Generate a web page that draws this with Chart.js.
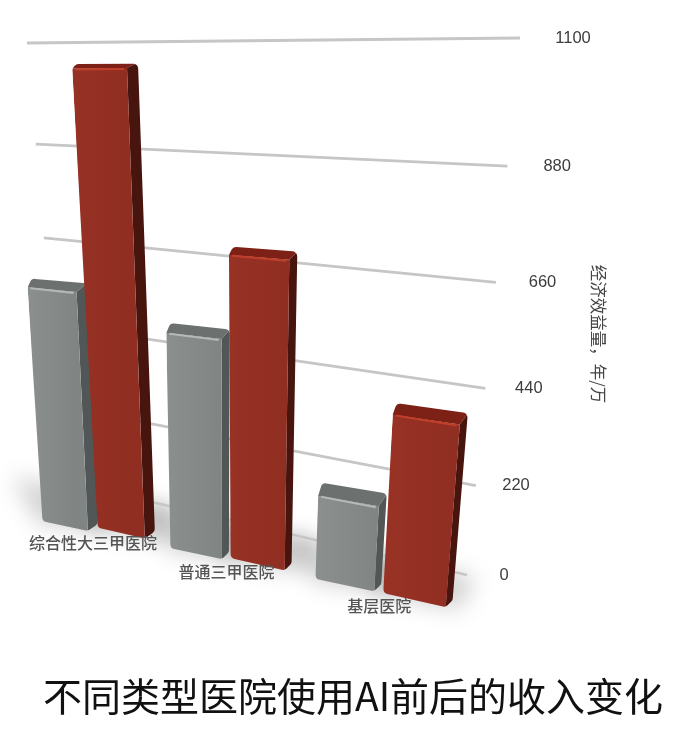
<!DOCTYPE html>
<html>
<head>
<meta charset="utf-8">
<style>
  html, body { margin: 0; padding: 0; background: #fff; }
  canvas { display: block; }
</style>
<script src="https://cdn.jsdelivr.net/npm/chart.js@4/dist/chart.umd.min.js"></script>
</head>
<body>
<canvas id="myChart" width="674" height="736"></canvas>
<script>
// data
const categories = ['综合性大三甲医院', '普通三甲医院', '基层医院'];
const beforeAI = [580, 510, 195];
const afterAI = [1050, 690, 400];
const yTicks = [0, 220, 440, 660, 880, 1100];
const titleText = '不同类型医院使用AI前后的收入变化';
const yAxisText = '经济效益量，年/万';

// perspective planes: top-left, top-right, bottom-right, bottom-left
const gridPlane = quad([27, 43], [520, 38], [467, 575], [65, 482]);
const grayPlane = quad([38, 42], [368, 34], [344.5, 585], [65, 526]);
const redPlane = quad([98, 42], [451, 34], [414, 600], [121, 533]);

function quad(p0, p1, p2, p3) {
    const dx1 = p1[0] - p2[0], dy1 = p1[1] - p2[1];
    const dx2 = p3[0] - p2[0], dy2 = p3[1] - p2[1];
    const sx = p0[0] - p1[0] + p2[0] - p3[0], sy = p0[1] - p1[1] + p2[1] - p3[1];
    const det = dx1 * dy2 - dy1 * dx2;
    const g = (sx * dy2 - sy * dx2) / det, h = (dx1 * sy - dy1 * sx) / det;
    const a = p1[0] - p0[0] + g * p1[0], b = p3[0] - p0[0] + h * p3[0];
    const d = p1[1] - p0[1] + g * p1[1], e = p3[1] - p0[1] + h * p3[1];
    return (u, v) => {
        const w = g * u + h * v + 1;
        return [(a * u + b * v + p0[0]) / w, (d * u + e * v + p0[1]) / w];
    };
}

// flat chart pixel -> bar plane (bar centres at 1/6 and 5/6 of the width)
function barPoint(chart, plane, x, y) {
    const area = chart.chartArea;
    const u = ((x - area.left) / area.width - 1 / 6) * 1.5;
    return plane(u, (y - area.top) / area.height);
}

function poly(ctx, pts) {
    ctx.beginPath();
    pts.forEach((p, i) => i ? ctx.lineTo(p[0], p[1]) : ctx.moveTo(p[0], p[1]));
    ctx.closePath();
}

function roundPoly(ctx, pts, r) {
    const n = pts.length;
    ctx.beginPath();
    ctx.moveTo((pts[0][0] + pts[n - 1][0]) / 2, (pts[0][1] + pts[n - 1][1]) / 2);
    for (let i = 0; i < n; i++) {
        const next = pts[(i + 1) % n];
        ctx.arcTo(pts[i][0], pts[i][1], next[0], next[1], r);
    }
    ctx.closePath();
}

function barCorners(chart, plane, el) {
    const l = el.x - el.width / 2, r = el.x + el.width / 2;
    return {
        tl: barPoint(chart, plane, l, el.y),
        tr: barPoint(chart, plane, r, el.y),
        br: barPoint(chart, plane, r, el.base),
        bl: barPoint(chart, plane, l, el.base)
    };
}

function drawBar(ctx, c, col, index) {
    // the lower the top of a bar, the more of its cap shows; left bars show more side
    const capH = 3 + c.tl[1] * 0.02, sideW = [11, 8, 8][index];
    const backL = [c.tl[0] + 4, c.tl[1] - capH];
    const backR = [c.tr[0] + sideW, c.tr[1] - capH];
    const sideB = [c.br[0] + sideW - 1, c.br[1] - 7];
    ctx.save();
    roundPoly(ctx, [c.tl, backL, backR, sideB, c.br, c.bl], 5);
    ctx.clip();
    ctx.filter = 'blur(0.7px)';
    // top
    ctx.fillStyle = col.cap;
    poly(ctx, [[c.tl[0] - 2, c.tl[1]], [backL[0] - 2, backL[1] - 2], [backR[0] + 2, backR[1] - 2], c.tr]);
    ctx.fill();
    // right side
    ctx.fillStyle = col.side;
    poly(ctx, [c.tr, [backR[0] + 2, backR[1] - 2], [sideB[0] + 2, sideB[1] + 2], c.br]);
    ctx.fill();
    // front
    const grad = ctx.createLinearGradient(c.tl[0], 0, c.tr[0], 0);
    grad.addColorStop(0, col.frontL);
    grad.addColorStop(1, col.front);
    ctx.fillStyle = grad;
    poly(ctx, [c.tl, c.tr, [c.br[0], c.br[1] + 3], [c.bl[0] - 2, c.bl[1] + 3], [c.bl[0] - 2, c.bl[1]]]);
    ctx.fill();
    // lit front edge
    ctx.strokeStyle = col.edge;
    ctx.lineWidth = 2;
    ctx.beginPath();
    ctx.moveTo(c.tl[0] + 3, c.tl[1] + 1);
    ctx.lineTo(c.tr[0] - 3, c.tr[1] + 1);
    ctx.stroke();
    ctx.restore();
}

const perspective = {
    id: 'perspective',
    beforeDatasetsDraw(chart) {
        const ctx = chart.ctx, y = chart.scales.y, area = chart.chartArea;
        const sets = [
            { meta: chart.getDatasetMeta(0), plane: grayPlane,
              col: { front: '#808584', frontL: '#8b908f', cap: '#6c7170', side: '#515756', edge: '#b4b9b8' } },
            { meta: chart.getDatasetMeta(1), plane: redPlane,
              col: { front: '#8f2e21', frontL: '#973225', cap: '#7d2015', side: '#47140e', edge: '#c03e2a' } }
        ];

        // floor shadows
        ctx.save();
        ctx.filter = 'blur(11px)';
        ctx.fillStyle = 'rgba(0,0,0,0.18)';
        sets.forEach(s => s.meta.data.forEach(el => {
            const c = barCorners(chart, s.plane, el);
            poly(ctx, [[c.bl[0] - 30, c.bl[1] - 45], [c.br[0] + 30, c.br[1] - 30],
                       [c.br[0] + 14, c.br[1] + 2], [c.bl[0] - 4, c.bl[1] + 2]]);
            ctx.fill();
        }));
        ctx.restore();

        // grid
        ctx.save();
        ctx.filter = 'blur(0.5px)';
        ctx.strokeStyle = '#c6c6c6';
        ctx.lineWidth = 2.8;
        y.ticks.forEach(t => {
            const v = (y.getPixelForValue(t.value) - area.top) / area.height;
            const a = gridPlane(0, v), b = gridPlane(1, v);
            ctx.beginPath();
            ctx.moveTo(a[0], a[1]);
            ctx.lineTo(b[0], b[1]);
            ctx.stroke();
        });
        ctx.restore();

        sets.forEach(s => s.meta.data.forEach((el, i) => {
            drawBar(ctx, barCorners(chart, s.plane, el), s.col, i);
        }));
    },
    beforeDatasetDraw() {
        return false;
    },
    afterDatasetsDraw(chart) {
        const ctx = chart.ctx, y = chart.scales.y, area = chart.chartArea;
        ctx.save();
        ctx.textAlign = 'center';
        ctx.textBaseline = 'middle';

        // tick labels follow the right end of each grid line
        ctx.fillStyle = '#3c3c3c';
        ctx.font = '16.5px "Liberation Sans"';
        y.ticks.forEach(t => {
            const v = (y.getPixelForValue(t.value) - area.top) / area.height;
            const p = gridPlane(1, v);
            ctx.fillText(t.value, p[0] + 37 + 16 * (1 - v), p[1]);
        });

        // category labels sit under the middle of each bar pair
        ctx.fillStyle = '#555';
        ctx.font = '500 16px "Noto Sans CJK SC"';
        chart.getDatasetMeta(0).data.forEach((el, i) => {
            const a = barPoint(chart, grayPlane, el.x, el.base);
            const b = barPoint(chart, redPlane, el.x, el.base);
            ctx.fillText(categories[i], (a[0] + b[0]) / 2, (a[1] + b[1]) / 2 + 13);
        });

        // axis title
        ctx.translate(598, 334);
        ctx.rotate(Math.PI / 2);
        ctx.fillStyle = '#444';
        ctx.font = '16.5px "Noto Sans CJK SC"';
        ctx.fillText(yAxisText, 0, 0);
        ctx.restore();
    }
};

var ctx = document.getElementById('myChart').getContext('2d');
var chart = new Chart(ctx, {
    type: 'bar',
    plugins: [perspective],
    data: {
        labels: categories,
        datasets: [
            { label: 'AI前', data: beforeAI, backgroundColor: '#808584', grouped: false },
            { label: 'AI后', data: afterAI, backgroundColor: '#8f2e21', grouped: false }
        ]
    },
    options: {
        responsive: false,
        animation: false,
        layout: { padding: { left: 32, bottom: 16 } },
        datasets: { bar: { barPercentage: 0.37, categoryPercentage: 1 } },
        scales: {
            x: { display: false },
            y: {
                display: false,
                min: 0,
                max: 1100,
                afterBuildTicks: scale => { scale.ticks = yTicks.map(value => ({ value })); }
            }
        },
        plugins: {
            legend: { display: false },
            tooltip: { enabled: false },
            title: {
                display: true,
                position: 'bottom',
                text: titleText,
                color: '#111',
                font: { family: '"Noto Sans CJK SC"', size: 39, weight: 'normal' },
                padding: 0
            }
        }
    }
});
</script>
</body>
</html>
